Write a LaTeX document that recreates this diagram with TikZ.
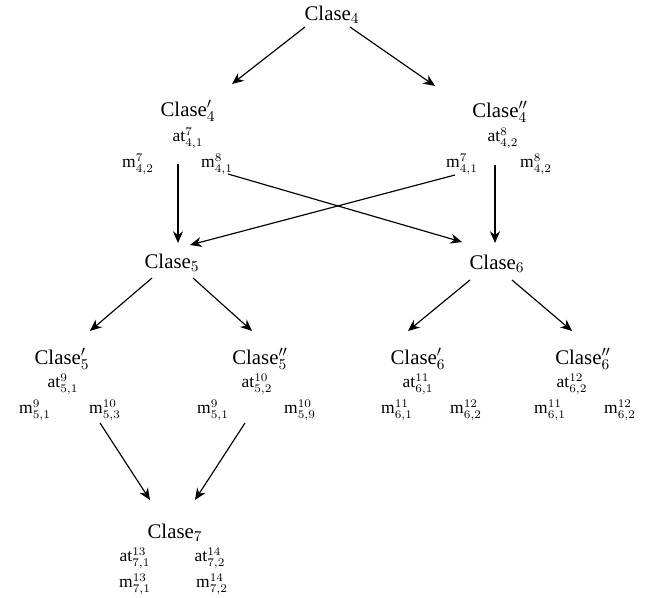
\documentclass[tikz,border=0pt]{standalone}
\usepackage{fontspec}
\setmainfont{Liberation Serif}
\usetikzlibrary{arrows.meta, calc}

\tikzset{
  cls/.style={inner sep=0pt, font=\fontsize{12.5}{14}\selectfont},
  attr/.style={inner sep=0pt, font=\fontsize{10.5}{12}\selectfont},
  arr/.style={-{Stealth[length=7pt, width=6pt]}, line width=0.7pt},
}

\begin{document}
\begin{tikzpicture}[x=0.6pt, y=-0.6pt]
  \useasboundingbox (0,0) rectangle (649,598);

  % level 1
  \node[cls] (c4) at (332,15) {Clase$_4$};

  % level 2
  \node[cls]  (c4a)    at (188,111) {Clase$'_4$};
  \node[attr] (c4a-at) at (188,138) {at$^{7}_{4,1}$};
  \node[attr] (c4a-m1) at (138,164) {m$^{7}_{4,2}$};
  \node[attr] (c4a-m2) at (217,164) {m$^{8}_{4,1}$};

  \node[cls]  (c4b)    at (500,112) {Clase$''_4$};
  \node[attr] (c4b-at) at (503,138) {at$^{8}_{4,2}$};
  \node[attr] (c4b-m1) at (462,164) {m$^{7}_{4,1}$};
  \node[attr] (c4b-m2) at (536,164) {m$^{8}_{4,2}$};

  % level 3
  \node[cls] (c5) at (172,263) {Clase$_5$};
  \node[cls] (c6) at (497,264) {Clase$_6$};

  % level 4
  \node[cls]  (c5a)    at (62,359)  {Clase$'_5$};
  \node[attr] (c5a-at) at (63,384)  {at$^{9}_{5,1}$};
  \node[attr] (c5a-m1) at (35,410)  {m$^{9}_{5,1}$};
  \node[attr] (c5a-m2) at (105,410) {m$^{10}_{5,3}$};

  \node[cls]  (c5b)    at (260,359) {Clase$''_5$};
  \node[attr] (c5b-at) at (257,384) {at$^{10}_{5,2}$};
  \node[attr] (c5b-m1) at (213,410) {m$^{9}_{5,1}$};
  \node[attr] (c5b-m2) at (300,410) {m$^{10}_{5,9}$};

  \node[cls]  (c6a)    at (418,359) {Clase$'_6$};
  \node[attr] (c6a-at) at (418,384) {at$^{11}_{6,1}$};
  \node[attr] (c6a-m1) at (397,410) {m$^{11}_{6,1}$};
  \node[attr] (c6a-m2) at (466,410) {m$^{12}_{6,2}$};

  \node[cls]  (c6b)    at (583,359) {Clase$''_6$};
  \node[attr] (c6b-at) at (572,384) {at$^{12}_{6,2}$};
  \node[attr] (c6b-m1) at (550,410) {m$^{11}_{6,1}$};
  \node[attr] (c6b-m2) at (620,410) {m$^{12}_{6,2}$};

  % level 5
  \node[cls]  (c7)     at (175,533) {Clase$_7$};
  \node[attr] (c7-at1) at (135,558) {at$^{13}_{7,1}$};
  \node[attr] (c7-at2) at (210,558) {at$^{14}_{7,2}$};
  \node[attr] (c7-m1)  at (135,584) {m$^{13}_{7,1}$};
  \node[attr] (c7-m2)  at (212,584) {m$^{14}_{7,2}$};

  % arrows
  \draw[arr] ($(c4)+(-27,12)$) -- ($(c4a)+(44,-27)$);
  \draw[arr] ($(c4)+(18,12)$) -- ($(c4b)+(-65,-26)$);
  \draw[arr] ($(c4a)+(-10,53)$) -- ($(c5)+(6,-20)$);
  \draw[arr] ($(c4a)+(40,63)$) -- ($(c6)+(-35,-22)$);
  \draw[arr] ($(c4b)+(-5,53)$) -- ($(c6)+(-2,-21)$);
  \draw[arr] ($(c4b)+(-45,63)$) -- ($(c5)+(18,-18)$);
  \draw[arr] ($(c5)+(-20,15)$) -- ($(c5a)+(28,-28)$);
  \draw[arr] ($(c5)+(21,15)$) -- ($(c5b)+(-8,-28)$);
  \draw[arr] ($(c6)+(-27,16)$) -- ($(c6a)+(-10,-28)$);
  \draw[arr] ($(c6)+(15,16)$) -- ($(c6b)+(-11,-28)$);
  \draw[arr] ($(c5a)+(38,64)$) -- ($(c7)+(-25,-33)$);
  \draw[arr] ($(c5b)+(-15,64)$) -- ($(c7)+(20,-33)$);
\end{tikzpicture}
\end{document}
